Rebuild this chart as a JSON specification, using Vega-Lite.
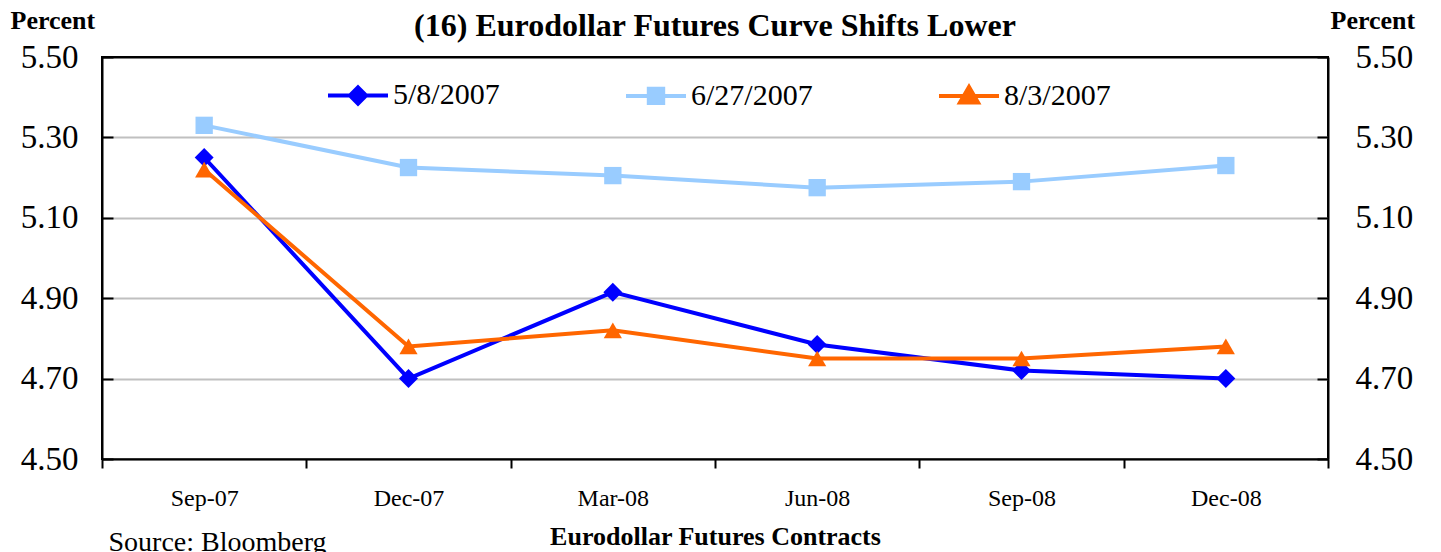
{
  "$schema": "https://vega.github.io/schema/vega-lite/v6.json",
  "width": 1226,
  "height": 402,
  "autosize": {"type": "none"},
  "padding": {"left": 102, "top": 57, "right": 113, "bottom": 93},
  "background": "white",
  "config": {
    "font": "Liberation Serif",
    "view": {"stroke": "black", "strokeWidth": 2}
  },
  "title": {
    "text": "(16) Eurodollar Futures Curve Shifts Lower",
    "fontSize": 32,
    "fontWeight": "bold",
    "font": "Liberation Serif",
    "color": "black",
    "anchor": "middle",
    "frame": "group",
    "dy": 40
  },
  "data": {
    "values": [
      {"contract": "Sep-07", "date": "5/8/2007", "rate": 5.25},
      {"contract": "Dec-07", "date": "5/8/2007", "rate": 4.70},
      {"contract": "Mar-08", "date": "5/8/2007", "rate": 4.915},
      {"contract": "Jun-08", "date": "5/8/2007", "rate": 4.785},
      {"contract": "Sep-08", "date": "5/8/2007", "rate": 4.72},
      {"contract": "Dec-08", "date": "5/8/2007", "rate": 4.70},
      {"contract": "Sep-07", "date": "6/27/2007", "rate": 5.33},
      {"contract": "Dec-07", "date": "6/27/2007", "rate": 5.225},
      {"contract": "Mar-08", "date": "6/27/2007", "rate": 5.205},
      {"contract": "Jun-08", "date": "6/27/2007", "rate": 5.175},
      {"contract": "Sep-08", "date": "6/27/2007", "rate": 5.19},
      {"contract": "Dec-08", "date": "6/27/2007", "rate": 5.23},
      {"contract": "Sep-07", "date": "8/3/2007", "rate": 5.22},
      {"contract": "Dec-07", "date": "8/3/2007", "rate": 4.78},
      {"contract": "Mar-08", "date": "8/3/2007", "rate": 4.82},
      {"contract": "Jun-08", "date": "8/3/2007", "rate": 4.75},
      {"contract": "Sep-08", "date": "8/3/2007", "rate": 4.75},
      {"contract": "Dec-08", "date": "8/3/2007", "rate": 4.78}
    ]
  },
  "layer": [
    {
      "mark": {"type": "line", "strokeWidth": 4},
      "encoding": {
        "x": {
          "field": "contract", "type": "ordinal",
          "sort": ["Sep-07", "Dec-07", "Mar-08", "Jun-08", "Sep-08", "Dec-08"],
          "scale": {"type": "band", "paddingInner": 0, "paddingOuter": 0},
          "axis": {
            "orient": "bottom",
            "labelAngle": 0,
            "labelFontSize": 24,
            "labelColor": "black",
            "labelBaseline": "middle",
            "labelPadding": 30,
            "ticks": true,
            "tickBand": "extent",
            "tickSize": 9,
            "tickWidth": 2,
            "tickColor": "black",
            "domain": true,
            "domainColor": "black",
            "domainWidth": 2,
            "grid": false,
            "title": "Eurodollar Futures Contracts",
            "titleFontSize": 26,
            "titleFontWeight": "bold",
            "titleColor": "black",
            "titleX": 613,
            "titleY": 85,
            "titleAlign": "center",
            "titleBaseline": "alphabetic"
          }
        },
        "y": {
          "field": "rate", "type": "quantitative",
          "scale": {"domain": [4.5, 5.5], "nice": false, "zero": false},
          "axis": {
            "orient": "left",
            "values": [4.5, 4.7, 4.9, 5.1, 5.3, 5.5],
            "format": ".2f",
            "labelFontSize": 33,
            "labelColor": "black",
            "labelPadding": 35,
            "tickSize": -11,
            "tickWidth": 2,
            "tickColor": "black",
            "domainColor": "black",
            "domainWidth": 2,
            "grid": true,
            "gridColor": {"condition": {"test": "datum.value >= 5.5", "value": "black"}, "value": "#c0c0c0"},
            "gridWidth": 2,
            "title": "Percent",
            "titleAngle": 0,
            "titleX": -92,
            "titleY": -29,
            "titleAlign": "left",
            "titleBaseline": "alphabetic",
            "titleFontSize": 26,
            "titleFontWeight": "bold",
            "titleColor": "black"
          }
        },
        "color": {
          "field": "date", "type": "nominal",
          "scale": {"domain": ["5/8/2007", "6/27/2007", "8/3/2007"], "range": ["#0000FF", "#99CCFF", "#FF6600"]},
          "legend": {
            "orient": "none",
            "legendX": 224,
            "legendY": 6,
            "direction": "horizontal",
            "title": null,
            "padding": 0,
            "labelFont": "Liberation Serif",
            "labelFontSize": 30,
            "labelColor": "black",
            "labelOffset": 3,
            "columnPadding": 118,
            "symbolSize": 3600,
            "symbolStrokeWidth": 4,
            "encode": {
              "symbols": {
                "update": {
                  "shape": {"signal": "datum.value === '5/8/2007' ? 'M-1,0H1M0,-0.27L0.27,0L0,0.27L-0.27,0Z' : datum.value === '6/27/2007' ? 'M-1,0H1M-0.24,-0.24H0.24V0.24H-0.24Z' : 'M-1,0H1M0,-0.3L0.3,0.22L-0.3,0.22Z'"},
                  "fill": {"signal": "scale('color', datum.value)"},
                  "stroke": {"signal": "scale('color', datum.value)"},
                  "strokeWidth": {"value": 4},
                  "opacity": {"value": 1}
                }
              }
            }
          }
        }
      }
    },
    {
      "transform": [{"filter": "datum.date === '5/8/2007'"}],
      "mark": {"type": "point", "filled": true, "opacity": 1, "size": 360, "shape": "diamond"},
      "encoding": {
        "x": {"field": "contract", "type": "ordinal", "sort": ["Sep-07", "Dec-07", "Mar-08", "Jun-08", "Sep-08", "Dec-08"], "axis": null},
        "y": {"field": "rate", "type": "quantitative", "axis": null},
        "color": {"field": "date", "type": "nominal"}
      }
    },
    {
      "transform": [{"filter": "datum.date === '6/27/2007'"}],
      "mark": {"type": "point", "filled": true, "opacity": 1, "size": 300, "shape": "square"},
      "encoding": {
        "x": {"field": "contract", "type": "ordinal", "sort": ["Sep-07", "Dec-07", "Mar-08", "Jun-08", "Sep-08", "Dec-08"], "axis": null},
        "y": {"field": "rate", "type": "quantitative", "axis": null},
        "color": {"field": "date", "type": "nominal"}
      }
    },
    {
      "transform": [{"filter": "datum.date === '8/3/2007'"}],
      "mark": {"type": "point", "filled": true, "opacity": 1, "size": 330, "shape": "triangle-up"},
      "encoding": {
        "x": {"field": "contract", "type": "ordinal", "sort": ["Sep-07", "Dec-07", "Mar-08", "Jun-08", "Sep-08", "Dec-08"], "axis": null},
        "y": {"field": "rate", "type": "quantitative", "axis": null},
        "color": {"field": "date", "type": "nominal"}
      }
    },
    {
      "mark": {"type": "point", "opacity": 0},
      "encoding": {
        "x": {
          "field": "contract", "type": "ordinal",
          "sort": ["Sep-07", "Dec-07", "Mar-08", "Jun-08", "Sep-08", "Dec-08"],
          "axis": {
            "orient": "bottom",
            "labels": false,
            "ticks": false,
            "domain": false,
            "grid": false,
            "title": "Source: Bloomberg",
            "titleFontSize": 28,
            "titleFontWeight": "normal",
            "titleColor": "black",
            "titleX": 6,
            "titleY": 91,
            "titleAlign": "left",
            "titleBaseline": "alphabetic"
          }
        },
        "y": {
          "field": "rate", "type": "quantitative",
          "axis": {
            "orient": "right",
            "values": [4.5, 4.7, 4.9, 5.1, 5.3, 5.5],
            "format": ".2f",
            "labelFontSize": 33,
            "labelColor": "black",
            "labelPadding": 38,
            "tickSize": -11,
            "tickWidth": 2,
            "tickColor": "black",
            "domainColor": "black",
            "domainWidth": 2,
            "grid": false,
            "title": "Percent",
            "titleAngle": 0,
            "titleX": 2,
            "titleY": -29,
            "titleAlign": "left",
            "titleBaseline": "alphabetic",
            "titleFontSize": 26,
            "titleFontWeight": "bold",
            "titleColor": "black"
          }
        }
      }
    }
  ],
  "resolve": {"axis": {"x": "independent", "y": "independent"}}
}
